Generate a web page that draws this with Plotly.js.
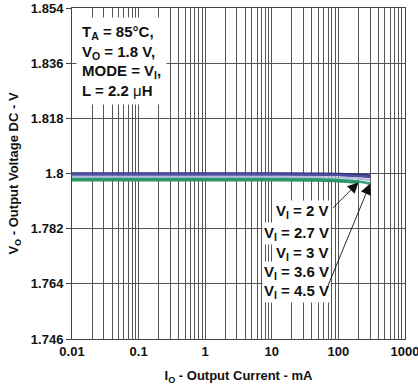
<!DOCTYPE html>
<html>
<head>
<meta charset="utf-8">
<script src="https://cdn.plot.ly/plotly-3.0.1.min.js"></script>
<style>html,body{margin:0;padding:0;background:#fff;}#chart{width:418px;height:391px;}</style>
</head>
<body>
<div id="chart"></div>
<script>
// Output current (mA)
const currentA = [0.01, 0.1, 1, 10, 50, 100, 200, 300];
const currentB = [0.01, 0.1, 1, 10, 50, 100, 200];
// Output voltage (V) per input voltage
const vo_4p5 = [1.7999, 1.7999, 1.7999, 1.7999, 1.7998, 1.7997, 1.7994, 1.7992];
const vo_3p6 = [1.7997, 1.7997, 1.7997, 1.7997, 1.7996, 1.7995, 1.7992, 1.7989];
const vo_3   = [1.7989, 1.7989, 1.7989, 1.7989, 1.7988, 1.7987, 1.7983, 1.7979];
const vo_2p7 = [1.7982, 1.7982, 1.7982, 1.7982, 1.7981, 1.7979, 1.7974, 1.7967];
const vo_2   = [1.7979, 1.7979, 1.7979, 1.7979, 1.7978, 1.7976, 1.7971];
const seriesNames = ['V<sub>I</sub> = 4.5 V','V<sub>I</sub> = 3.6 V','V<sub>I</sub> = 3 V','V<sub>I</sub> = 2.7 V','V<sub>I</sub> = 2 V'];
const labelOrder = ['V<sub>I</sub> = 2 V','V<sub>I</sub> = 2.7 V','V<sub>I</sub> = 3 V','V<sub>I</sub> = 3.6 V','V<sub>I</sub> = 4.5 V'];
const yTicks = [1.746, 1.764, 1.782, 1.8, 1.818, 1.836, 1.854];
const xTicks = [0.01, 0.1, 1, 10, 100, 1000];
const xTickText = ['0.01', '0.1', '1', '10', '100', '1000'];

const colors = ['#2b2877', '#4b4f9e', '#b9bbdc', '#3aa07a', '#2a9668'];
const widths = [3.2, 2.6, 2.2, 2.6, 3.2];
const xs = [currentA, currentA, currentA, currentA, currentB];
const ys = [vo_4p5, vo_3p6, vo_3, vo_2p7, vo_2];
const traces = ys.map((y, i) => ({
  x: xs[i], y: y, type: 'scatter', mode: 'lines', name: seriesNames[i],
  line: {color: colors[i], width: widths[i], shape: 'spline'}, showlegend: false
}));

const font = {family: '"Liberation Sans", Arial, sans-serif', color: '#111'};
const bold = s => '<b>' + s + '</b>';

const annotations = [];
annotations.push({
  xref: 'paper', yref: 'paper', x: 0.012, y: 0.972, xanchor: 'left', yanchor: 'top',
  align: 'left', showarrow: false, bgcolor: '#fff', borderpad: 5,
  text: bold('T<sub>A</sub> = 85°C,') + '<br>' + bold('V<sub>O</sub> = 1.8 V,') + '<br>' +
        bold('MODE = V<sub>I</sub>,') + '<br>' + bold('L = 2.2 ') + 'μ' + bold('H'),
  font: Object.assign({}, font, {size: 15})
});
const labelY = [0.384, 0.320, 0.257, 0.202, 0.142];
labelOrder.forEach((t, i) => {
  annotations.push({
    xref: 'paper', yref: 'paper', x: 0.777, y: labelY[i], xanchor: 'right', yanchor: 'middle',
    showarrow: false, bgcolor: '#fff', borderpad: 1, text: bold(t),
    font: Object.assign({}, font, {size: 15})
  });
});
// arrows pointing to curve ends
const last = a => a[a.length - 1];
annotations.push({
  x: Math.log10(last(currentB)), y: last(vo_2), xref: 'x', yref: 'y', text: '',
  showarrow: true, arrowhead: 2, arrowsize: 2.4, arrowwidth: 0.9, arrowcolor: '#111',
  ax: -27, ay: 27
});
annotations.push({
  x: Math.log10(last(currentA)), y: last(vo_2p7), xref: 'x', yref: 'y', text: '',
  showarrow: true, arrowhead: 2, arrowsize: 2.4, arrowwidth: 0.9, arrowcolor: '#111',
  ax: -43, ay: 104
});

const layout = {
  width: 418, height: 391,
  margin: {l: 72, r: 13, t: 8, b: 52},
  paper_bgcolor: '#fff', plot_bgcolor: '#fff',
  font: font,
  xaxis: {
    type: 'log', range: [-2, 3], tickvals: xTicks, ticktext: xTickText.map(bold),
    ticklabeloverflow: 'allow',
    showgrid: true, gridcolor: '#555', gridwidth: 1,
    minor: {dtick: 'D1', showgrid: true, gridcolor: '#555', gridwidth: 1, ticks: ''},
    showline: true, linecolor: '#444', linewidth: 1, mirror: true, ticks: '',
    tickfont: {size: 13, family: font.family, color: '#111'},
    zeroline: false,
    title: {text: bold('I<sub>O</sub> - Output Current - mA'), font: {size: 13, family: font.family, color: '#111'}, standoff: 13}
  },
  yaxis: {
    range: [1.746, 1.854], tickvals: yTicks, ticktext: yTicks.map(v => bold(String(v))),
    showgrid: true, gridcolor: '#555', gridwidth: 1,
    showline: true, linecolor: '#444', linewidth: 1, mirror: true,
    ticks: 'outside', ticklen: 5, tickcolor: '#444',
    tickfont: {size: 13, family: font.family, color: '#111'},
    zeroline: false,
    title: {text: bold('V<sub>O</sub> - Output Voltage DC - V'), font: {size: 13, family: font.family, color: '#111'}, standoff: 9}
  },
  annotations: annotations
};

Plotly.newPlot('chart', traces, layout, {staticPlot: true, displayModeBar: false});
</script>
</body>
</html>
